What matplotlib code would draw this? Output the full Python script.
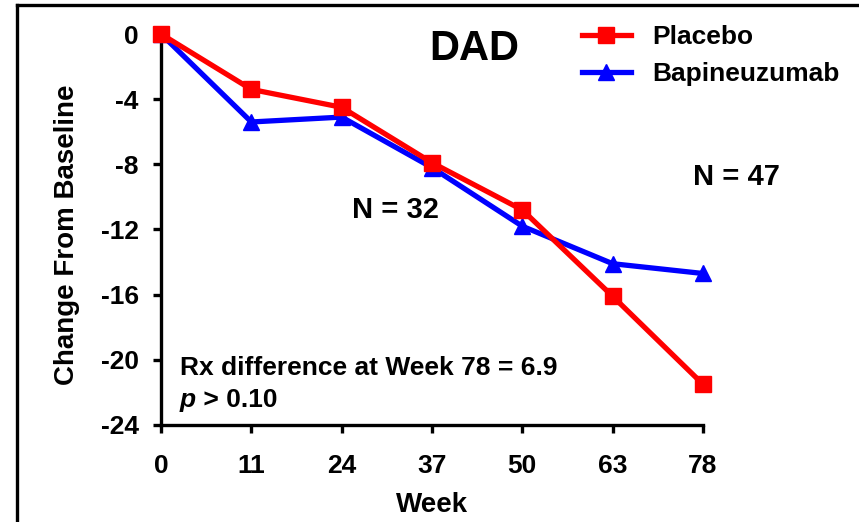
import matplotlib
matplotlib.use("Agg")
import matplotlib.pyplot as plt
from matplotlib.lines import Line2D
from matplotlib import font_manager

weeks = ["0", "11", "24", "37", "50", "63", "78"]
placebo = [0.0, -3.4, -4.5, -7.9, -10.8, -16.1, -21.5]
bapineuzumab = [0.0, -5.4, -5.1, -8.2, -11.8, -14.1, -14.7]
y_ticks = [0, -4, -8, -12, -16, -20, -24]

series_names = ["Placebo", "Bapineuzumab"]
title_text = "DAD"
n_left = "N = 32"
n_right = "N = 47"
diff_text = "Rx difference at Week 78 = 6.9"
p_text = " > 0.10"

installed = {f.name for f in font_manager.fontManager.ttflist}
narrow = [f for f in ["Liberation Sans Narrow", "Liberation Sans", "DejaVu Sans"] if f in installed]
regular = [f for f in ["Liberation Sans", "DejaVu Sans"] if f in installed]

W, H = 859, 522
fig = plt.figure(figsize=(W / 100, H / 100), dpi=100)
fig.patch.set_facecolor("white")

def fx(px):
    return px / W

def fy(py):
    return 1 - py / H

ax = fig.add_axes([fx(161), fy(425), fx(703) - fx(161), fy(34) - fy(425)])
x = list(range(len(weeks)))

ax.plot(x, bapineuzumab, color="#0000FF", lw=3.8, marker="^", ms=11,
        markeredgecolor="#0000FF", clip_on=False, zorder=3)
ax.plot(x, placebo, color="#FF0000", lw=3.8, marker="s", ms=11,
        markeredgecolor="#FF0000", clip_on=False, zorder=4)

ax.set_xlim(0, len(weeks) - 1)
ax.set_ylim(-24, 0)
ax.set_xticks(x)
ax.set_xticklabels(weeks)
ax.set_yticks(y_ticks)
ax.set_yticklabels([str(v) for v in y_ticks])

for s in ["top", "right"]:
    ax.spines[s].set_visible(False)
for s in ["left", "bottom"]:
    ax.spines[s].set_linewidth(2.4)
ax.tick_params(axis="both", direction="out", length=6, width=2.4, labelsize=19)
ax.tick_params(axis="x", pad=15)
ax.tick_params(axis="y", pad=10)
for lab in ax.get_xticklabels() + ax.get_yticklabels():
    lab.set_family(narrow)
    lab.set_fontweight("bold")

ax.set_xlabel("Week", family=narrow, fontweight="bold", fontsize=20, labelpad=10)
fig.text(fx(67), fy(235), "Change From Baseline", family=narrow, fontweight="bold",
         fontsize=20, rotation=90, ha="center", va="center")

fig.text(fx(474), fy(60), title_text, family=regular, fontweight="bold",
         fontsize=30, ha="center", va="baseline")
fig.text(fx(352), fy(218), n_left, family=regular, fontweight="bold",
         fontsize=21, ha="left", va="baseline")
fig.text(fx(693), fy(185), n_right, family=regular, fontweight="bold",
         fontsize=21, ha="left", va="baseline")
fig.text(fx(180), fy(375), diff_text, family=regular, fontweight="bold",
         fontsize=19, ha="left", va="baseline")
tp = fig.text(fx(180), fy(407), "p", family=regular, fontweight="bold",
              fontstyle="italic", fontsize=19, ha="left", va="baseline")
ax.annotate(p_text, xy=(1, 0), xycoords=tp, ha="left", va="bottom",
            family=regular, fontweight="bold", fontsize=19, annotation_clip=False)

handles = [
    Line2D([], [], color="#FF0000", lw=3.8, marker="s", ms=11),
    Line2D([], [], color="#0000FF", lw=3.8, marker="^", ms=11),
]
fig.legend(handles, series_names, loc="upper left",
           bbox_to_anchor=(fx(582), fy(25)), frameon=False,
           prop={"family": regular, "weight": "bold", "size": 19},
           handlelength=1.85, handletextpad=0.8, labelspacing=0.5,
           borderpad=0, borderaxespad=0)

# outer frame on the left and top edges
fig.add_artist(Line2D([fx(17), fx(17)], [fy(5), 0], color="black", lw=2.4,
                      transform=fig.transFigure))
fig.add_artist(Line2D([fx(17), 1], [fy(5), fy(5)], color="black", lw=2.4,
                      transform=fig.transFigure))

fig.savefig("out.png", dpi=100, facecolor="white")
